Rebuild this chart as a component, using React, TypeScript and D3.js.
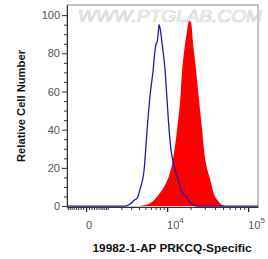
import * as d3 from "d3";
import { useEffect, useRef } from "react";

// control (blue outline) histogram: intensity, relative count
const blueX = [2160, 2350, 2990, 3350, 3730, 4160, 4780, 5290, 5840, 6440, 6880, 7100, 7330, 7560, 7800, 8050, 8580, 9400, 10000, 10620, 11290, 12350, 13900, 15650, 17590, 19740, 22140, 24830];
const blueY = [0, 0, 1.5, 3, 4, 9, 19, 40, 58, 71, 82, 85, 86, 90, 95, 93, 85, 71, 55, 40, 29, 21, 14, 7, 5, 2, 0.5, 0];

// PRKCQ stained (red filled) histogram
const redX = [4160, 4940, 5840, 6880, 8050, 9400, 10620, 11640, 12730, 13500, 14760, 15650, 17080, 18100, 19180, 20310, 21510, 23450, 25540, 27830, 29450, 31150, 34880, 39000, 43640, 48760, 54510];
const redY = [0, 0.5, 1.5, 3.7, 7, 11, 16, 22, 32, 40, 55, 71, 85, 92, 97, 96, 85, 71, 55, 40, 29, 22, 14, 6, 2.6, 0.5, 0];

const yTicks = [0, 20, 40, 60, 80, 100];
const xMajor = [0, 10000, 100000];
const xLabels = [
  { base: "0", exp: "" },
  { base: "10", exp: "4" },
  { base: "10", exp: "5" },
];

const App = () => {
  const svgRef = useRef<SVGSVGElement>(null);

  useEffect(() => {
    const svg = d3.select(svgRef.current);
    svg.selectAll("*").remove();
    const m = { left: 67, right: 258, top: 5, bottom: 207 };
    const font = "'Liberation Sans', Arial, sans-serif";

    const x = d3.scaleSymlog().constant(1250).domain([-847, 131000]).range([m.left, m.right]);
    const y = d3.scaleLinear().domain([-0.5, 105.3]).range([m.bottom, m.top]);

    // frame
    svg.append("rect")
      .attr("x", m.left).attr("y", m.top)
      .attr("width", m.right - m.left).attr("height", m.bottom - m.top)
      .attr("fill", "none").attr("stroke", "#8a8a8a").attr("stroke-width", 1);

    // watermark
    svg.append("text")
      .attr("x", 78).attr("y", 22)
      .attr("textLength", 184).attr("lengthAdjust", "spacingAndGlyphs")
      .style("font-family", font).style("font-size", "16px").style("font-style", "italic")
      .attr("fill", "none").attr("stroke", "#d2d2d2").attr("stroke-width", 0.7)
      .text("WWW.PTGLAB.COM");

    // red filled histogram
    const redData = redX.map((v, i) => [v, redY[i]] as [number, number]);
    const area = d3.area<[number, number]>()
      .x(d => x(d[0])).y0(y(0)).y1(d => y(d[1]))
      .curve(d3.curveMonotoneX);
    svg.append("path").datum(redData).attr("d", area).attr("fill", "#ff0000");

    // blue control line, running along the baseline across the whole range
    const blueData: [number, number][] = [[-847, 0], ...blueX.map((v, i) => [v, blueY[i]] as [number, number]), [131000, 0]];
    const line = d3.line<[number, number]>().x(d => x(d[0])).y(d => y(d[1])).curve(d3.curveMonotoneX);
    svg.append("path").datum(blueData).attr("d", line)
      .attr("fill", "none").attr("stroke", "#1c1ca8").attr("stroke-width", 1.3);

    // y axis
    const yMinor = d3.range(5, 105, 5).filter(v => v % 20 !== 0);
    const gy = svg.append("g").attr("transform", `translate(${m.left},0)`)
      .call(d3.axisLeft(y).tickValues(yTicks).tickSize(5).tickPadding(2).tickSizeOuter(0));
    gy.select(".domain").attr("stroke", "#333");
    gy.selectAll(".tick line").attr("stroke", "#333");
    gy.selectAll("text").style("font-family", font).style("font-size", "11px").attr("fill", "#555");
    const gy2 = svg.append("g").attr("transform", `translate(${m.left},0)`)
      .call(d3.axisLeft(y).tickValues(yMinor).tickSize(3).tickFormat(() => ""));
    gy2.select(".domain").remove();
    gy2.selectAll(".tick line").attr("stroke", "#333");

    // x axis
    const xMinor = [
      ...d3.range(-800, 0, 100),
      ...d3.range(100, 1000, 100),
      ...d3.range(1000, 10000, 1000),
      ...d3.range(20000, 100000, 10000),
    ];
    const gx = svg.append("g").attr("transform", `translate(0,${m.bottom})`)
      .call(d3.axisBottom(x).tickValues(xMajor).tickSize(5).tickSizeOuter(0).tickFormat(() => ""));
    gx.select(".domain").attr("stroke", "#333");
    gx.selectAll(".tick line").attr("stroke", "#222").attr("stroke-width", 1.3);
    const gx2 = svg.append("g").attr("transform", `translate(0,${m.bottom})`)
      .call(d3.axisBottom(x).tickValues(xMinor).tickSize(3).tickFormat(() => ""));
    gx2.select(".domain").remove();
    gx2.selectAll(".tick line").attr("stroke", "#333");

    xMajor.forEach((v, i) => {
      const lab = xLabels[i];
      const t = svg.append("text")
        .attr("y", 229)
        .style("font-family", font).style("font-size", "11px").attr("fill", "#555");
      if (lab.exp === "") {
        t.attr("x", x(v) + 3).attr("text-anchor", "middle").text(lab.base);
      } else {
        t.attr("x", x(v)).attr("text-anchor", "start");
        t.append("tspan").text(lab.base);
        t.append("tspan").attr("dy", -6).style("font-size", "8px").text(lab.exp);
      }
    });

    // titles
    svg.append("text")
      .attr("x", 172).attr("y", 252).attr("text-anchor", "middle")
      .attr("textLength", 159).attr("lengthAdjust", "spacingAndGlyphs")
      .style("font-family", font).style("font-size", "10px").style("font-weight", "bold")
      .attr("fill", "#111")
      .text("19982-1-AP PRKCQ-Specific");
    svg.append("text")
      .attr("transform", "translate(25,106) rotate(-90)")
      .attr("text-anchor", "middle")
      .attr("textLength", 112).attr("lengthAdjust", "spacingAndGlyphs")
      .style("font-family", font).style("font-size", "10px").style("font-weight", "bold")
      .attr("fill", "#111")
      .text("Relative Cell Number");
  }, []);

  return (
    <svg ref={svgRef} width={268} height={259}
      style={{ position: "absolute", left: 0, top: 0, background: "#fff" }} />
  );
};

export default App;
